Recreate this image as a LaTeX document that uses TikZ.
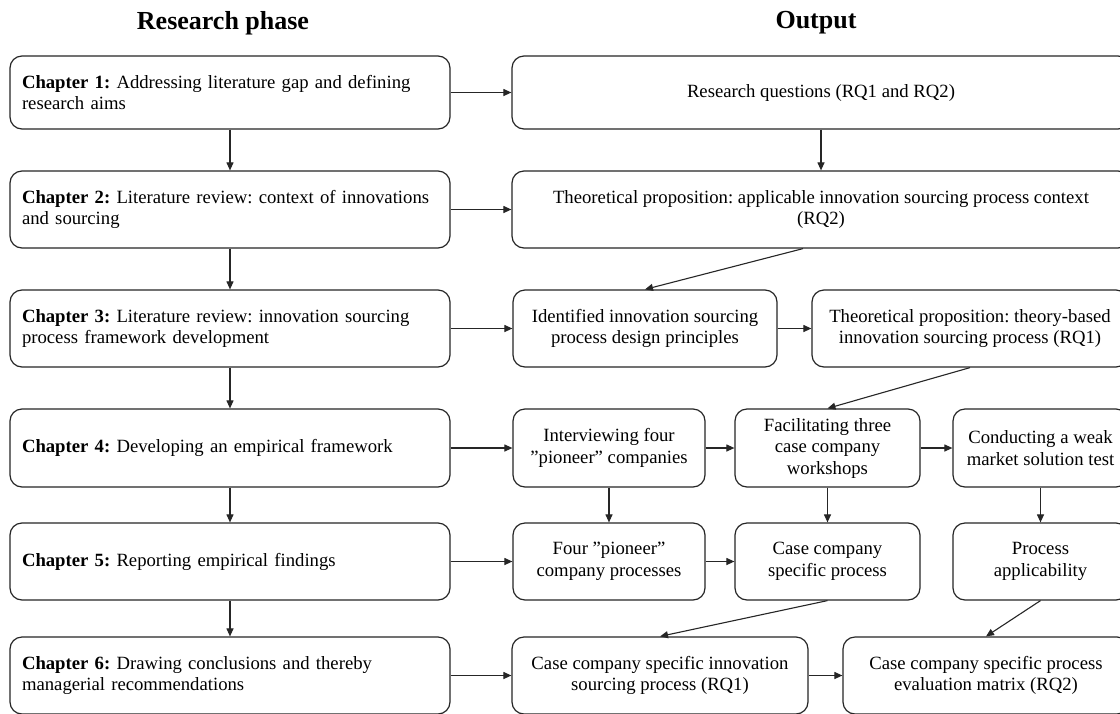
\documentclass[tikz,border=0pt]{standalone}
\usepackage{fontspec}
\setmainfont{Liberation Serif}
\usetikzlibrary{arrows.meta}
\frenchspacing
\begin{document}
\begin{tikzpicture}[x=1pt,y=-1pt,
  every node/.style={font=\fontsize{18.7}{21.5}\selectfont},
  phase/.style={draw=black!85, line width=1.2pt, rounded corners=12pt, fill=white,
    align=left, text width=416pt, inner xsep=12pt, inner ysep=0pt, minimum height=#1},
  outbox/.style n args={2}{draw=black!85, line width=1.2pt, rounded corners=12pt, fill=white,
    align=center, inner sep=0pt, minimum width=#1, minimum height=#2},
  heading/.style={font=\fontsize{26}{30}\selectfont\bfseries},
  link/.style={draw=black!85, line width=1.1pt, -{Triangle[length=8pt,width=7pt]}}
]
\useasboundingbox (0,0) rectangle (1120,713);
\clip (0,0) rectangle (1120,713);
\fill[white] (0,0) rectangle (1120,713);

% column headings
\node[heading] (hphase) at (223,23) {Research phase};
\node[heading] (hout) at (816,23) {Output};

% research phase column
\node[phase=73pt] (L1) at (230,92.5) {\textbf{Chapter 1:} Addressing literature gap and defining\\research aims};
\node[phase=77pt] (L2) at (230,209.5) {\textbf{Chapter 2:} Literature review: context of innovations\\and sourcing};
\node[phase=77pt] (L3) at (230,328.5) {\textbf{Chapter 3:} Literature review: innovation sourcing\\process framework development};
\node[phase=78pt] (L4) at (230,448) {\textbf{Chapter 4:} Developing an empirical framework};
\node[phase=77pt] (L5) at (230,561.5) {\textbf{Chapter 5:} Reporting empirical findings};
\node[phase=77pt] (L6) at (230,675.5) {\textbf{Chapter 6:} Drawing conclusions and thereby\\managerial recommendations};

% output column
\node[outbox={618pt}{73pt}] (R1) at (821,92.5) {Research questions (RQ1 and RQ2)};
\node[outbox={618pt}{77pt}] (R2) at (821,209.5) {Theoretical proposition: applicable innovation sourcing process context\\(RQ2)};
\node[outbox={264pt}{77pt}] (R3a) at (645,328.5) {Identified innovation sourcing\\process design principles};
\node[outbox={316pt}{77pt}] (R3b) at (970,328.5) {Theoretical proposition: theory-based\\innovation sourcing process (RQ1)};
\node[outbox={192pt}{78pt}] (R4a) at (609,448) {Interviewing four\\”pioneer” companies};
\node[outbox={185pt}{78pt}] (R4b) at (827.5,448) {Facilitating three\\case company\\workshops};
\node[outbox={175pt}{78pt}] (R4c) at (1040.5,448) {Conducting a weak\\market solution test};
\node[outbox={192pt}{77pt}] (R5a) at (609,561.5) {Four ”pioneer”\\company processes};
\node[outbox={185pt}{77pt}] (R5b) at (827.5,561.5) {Case company\\specific process};
\node[outbox={175pt}{77pt}] (R5c) at (1040.5,561.5) {Process\\applicability};
\node[outbox={296pt}{77pt}] (R6a) at (660,675.5) {Case company specific innovation\\sourcing process (RQ1)};
\node[outbox={286pt}{77pt}] (R6b) at (986,675.5) {Case company specific process\\evaluation matrix (RQ2)};

% chapter sequence
\draw[link] (L1.south) -- (L2.north);
\draw[link] (L2.south) -- (L3.north);
\draw[link] (L3.south) -- (L4.north);
\draw[link] (L4.south) -- (L5.north);
\draw[link] (L5.south) -- (L6.north);

% chapter to output
\draw[link] (L1.east) -- (R1.west);
\draw[link] (L2.east) -- (R2.west);
\draw[link] (L3.east) -- (R3a.west);
\draw[link] (L4.east) -- (R4a.west);
\draw[link] (L5.east) -- (R5a.west);
\draw[link] (L6.east) -- (R6a.west);

% flow between outputs
\draw[link] (R1.south) -- (R2.north);
\draw[link] ([xshift=-18pt]R2.south) -- (R3a.north);
\draw[link] (R3a.east) -- (R3b.west);
\draw[link] (R3b.south) -- (R4b.north);
\draw[link] (R4a.east) -- (R4b.west);
\draw[link] (R4b.east) -- (R4c.west);
\draw[link] (R4a.south) -- (R5a.north);
\draw[link] (R4b.south) -- (R5b.north);
\draw[link] (R4c.south) -- (R5c.north);
\draw[link] (R5a.east) -- (R5b.west);
\draw[link] (R5b.south) -- (R6a.north);
\draw[link] (R5c.south) -- (R6b.north);
\draw[link] (R6a.east) -- (R6b.west);
\end{tikzpicture}
\end{document}
